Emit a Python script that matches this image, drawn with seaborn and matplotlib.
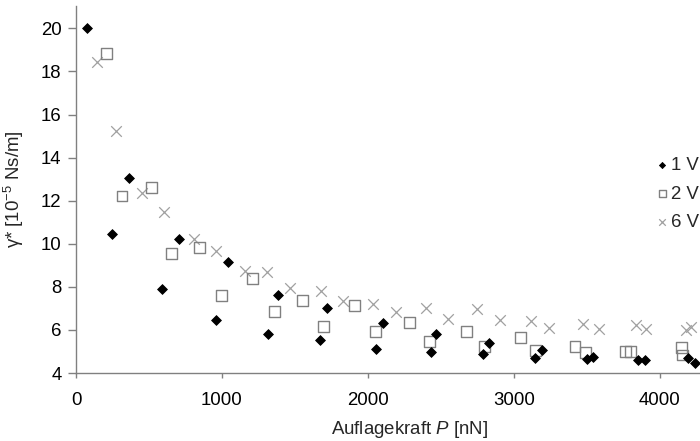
import matplotlib
matplotlib.use("Agg")
import matplotlib.pyplot as plt
import seaborn as sns
import pandas as pd

# ---- data ----
x_1v = [77, 249, 363, 590, 704, 958, 1045, 1319, 1386, 1673, 1722, 2055, 2101,
        2435, 2467, 2789, 2828, 3146, 3194, 3502, 3544, 3850, 3903, 4195, 4245]
y_1v = [20.0, 10.46, 13.07, 7.89, 10.24, 6.45, 9.17, 5.80, 7.62, 5.53, 7.02, 5.10, 6.31,
        4.99, 5.80, 4.87, 5.38, 4.68, 5.07, 4.65, 4.73, 4.60, 4.60, 4.68, 4.45]

x_2v = [210, 315, 517, 652, 848, 999, 1207, 1360, 1555, 1699, 1907, 2051, 2286,
        2421, 2675, 2801, 3045, 3148, 3420, 3489, 3765, 3800, 4147, 4154]
y_2v = [18.84, 12.22, 12.60, 9.56, 9.82, 7.59, 8.40, 6.85, 7.35, 6.18, 7.13, 5.92, 6.34,
        5.47, 5.92, 5.25, 5.63, 5.07, 5.25, 4.96, 5.01, 5.01, 5.18, 4.84]

x_6v = [142, 274, 455, 606, 809, 958, 1155, 1312, 1468, 1678, 1829, 2035, 2192,
        2396, 2551, 2750, 2904, 3121, 3239, 3472, 3585, 3839, 3909, 4184, 4218]
y_6v = [18.44, 15.25, 12.38, 11.47, 10.23, 9.68, 8.75, 8.68, 7.94, 7.81, 7.33, 7.21, 6.83,
        7.03, 6.52, 6.96, 6.46, 6.40, 6.11, 6.26, 6.03, 6.23, 6.03, 5.98, 6.15]

labels = ["1 V", "2 V", "6 V"]
x_ticks = [0, 1000, 2000, 3000, 4000]
y_ticks = [4, 6, 8, 10, 12, 14, 16, 18, 20]

df1 = pd.DataFrame({"P": x_1v, "g": y_1v})
df2 = pd.DataFrame({"P": x_2v, "g": y_2v})
df6 = pd.DataFrame({"P": x_6v, "g": y_6v})

sns.set_theme(style="white")
plt.rcParams["font.family"] = ["Liberation Sans", "DejaVu Sans"]
plt.rcParams["mathtext.fontset"] = "custom"
plt.rcParams["mathtext.rm"] = "Liberation Sans"
plt.rcParams["mathtext.it"] = "Liberation Sans:italic"

FS = 13.4
fig = plt.figure(figsize=(7.0, 4.41), dpi=100)
ax = fig.add_axes([0.1086, 0.154, 0.89, 0.832])

sns.scatterplot(data=df1, x="P", y="g", ax=ax, marker="D", s=25, color="black",
                edgecolor="black", linewidth=0.6, label=labels[0], zorder=3)
sns.scatterplot(data=df2, x="P", y="g", ax=ax, marker="s", s=62, facecolors="none",
                edgecolor="#808080", linewidth=1.0, label=labels[1], zorder=2)
sns.scatterplot(data=df6, x="P", y="g", ax=ax, marker="x", s=58, color="#a0a0a0",
                linewidth=0.9, label=labels[2], zorder=1)

ax.set_xlim(0, 4270)
ax.set_ylim(4, 21.03)
ax.set_xticks(x_ticks)
ax.set_yticks(y_ticks)
ax.tick_params(axis="both", which="major", labelsize=FS, colors="#808080",
               labelcolor="black", width=1, direction="out", left=True, bottom=True)
ax.tick_params(axis="x", length=3.6, pad=10)
ax.tick_params(axis="y", length=6, pad=4.5)
for side in ["top", "right"]:
    ax.spines[side].set_visible(False)
for side in ["left", "bottom"]:
    ax.spines[side].set_color("#808080")
    ax.spines[side].set_linewidth(1)

ax.set_xlabel(r"Auflagekraft $\mathit{P}$ [nN]", fontsize=FS)
ax.xaxis.set_label_coords(0.5345, -0.125)
ax.set_ylabel(r"γ* [10$^{-5}$ Ns/m]", fontsize=FS)
ax.yaxis.set_label_coords(-0.081, 0.5)

ax.legend(loc="upper left", bbox_to_anchor=(0.937, 0.644),
          bbox_transform=fig.transFigure, frameon=False,
          fontsize=FS, handletextpad=0.1, labelspacing=0.62, borderpad=0,
          borderaxespad=0, handlelength=0.7, markerscale=0.62)

fig.savefig("out.png", dpi=100)
